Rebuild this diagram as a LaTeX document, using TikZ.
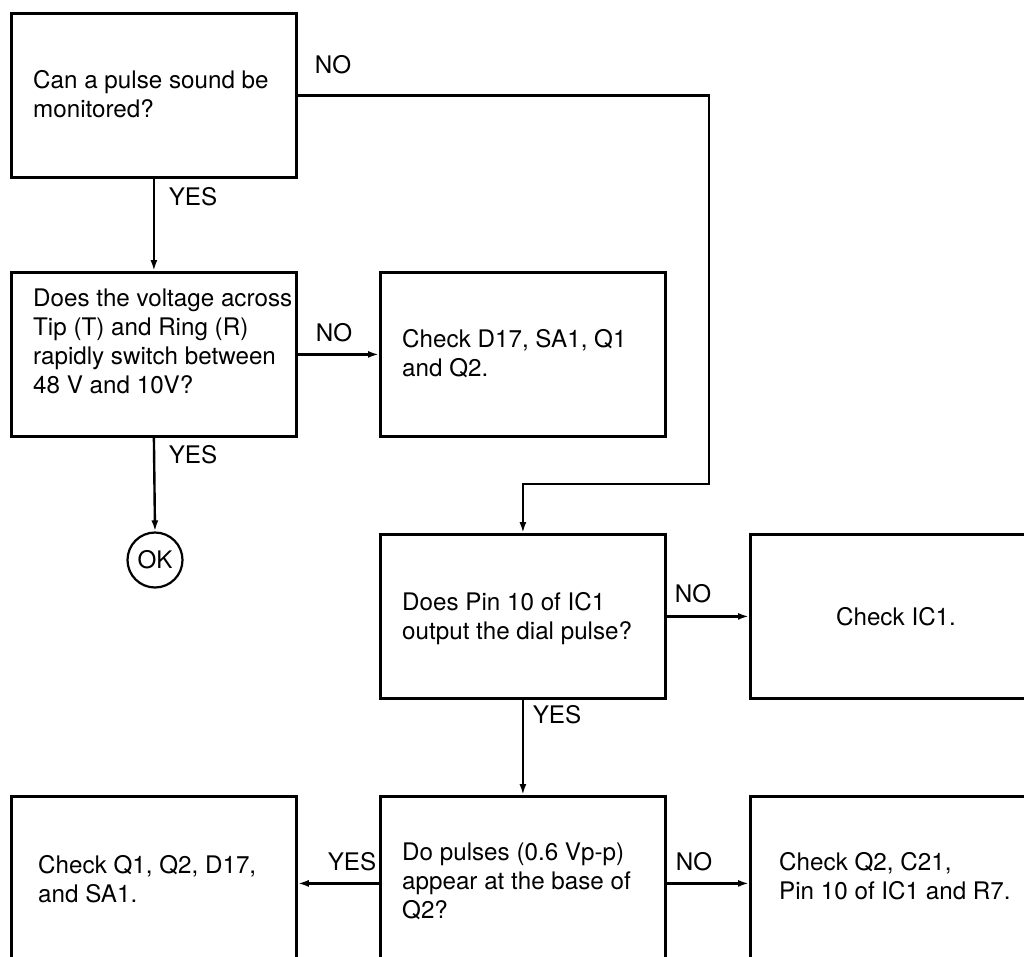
\documentclass[tikz,border=0pt]{standalone}
\usepackage{fontspec}
\setmainfont{TeX Gyre Heros}
\usetikzlibrary{arrows.meta}
\begin{document}
\begin{tikzpicture}[x=1pt,y=-1pt,
  box/.style={draw,line width=2.8pt,minimum width=285pt,minimum height=164pt,inner sep=0pt,anchor=north west},
  tallbox/.style={box,minimum height=174pt},
  txt/.style={align=left,anchor=west,inner sep=0pt,font=\fontsize{24.2}{29}\selectfont},
  lbl/.style={inner sep=0pt,font=\fontsize{24.2}{29}\selectfont},
  conn/.style={line width=2.4pt},
  arr/.style={conn,-{Latex[length=11pt,width=7pt]}}]
\useasboundingbox (0,0) rectangle (1024,956);
\clip (0,0) rectangle (1024,956);
% boxes
\node[box] (a) at (10,12) {};
\node[box] (b) at (10,271) {};
\node[box] (c) at (379,271) {};
\node[box] (d) at (379,533) {};
\node[box] (e) at (749,533) {};
\node[tallbox] (f) at (10,795) {};
\node[tallbox] (g) at (379,795) {};
\node[tallbox] (h) at (749,795) {};
\node[draw,circle,line width=2.2pt,minimum size=55pt,inner sep=0pt,font=\fontsize{24.2}{29}\selectfont] (ok) at (155,560) {OK};
% texts
\node[txt] (ta) at (33,94) {Can a pulse sound be\\monitored?};
\node[txt] (tb) at (33,341) {Does the voltage across\\Tip (T) and Ring (R)\\rapidly switch between\\48 V and 10V?};
\node[txt] (tc) at (402,354) {Check D17, SA1, Q1\\and Q2.};
\node[txt] (td) at (402,619) {Does Pin 10 of IC1\\output the dial pulse?};
\node[txt,anchor=center] (te) at (896,617) {Check IC1.};
\node[txt] (tf) at (38,879) {Check Q1, Q2, D17,\\and SA1.};
\node[txt] (tg) at (402,881) {Do pulses (0.6 Vp-p)\\appear at the base of\\Q2?};
\node[txt] (th) at (779,876) {Check Q2, C21,\\Pin 10 of IC1 and R7.};
% connectors
\draw[arr] (a.south) -- (b.north);
\draw[arr] (a.east) -| (709,484) -| (d.north);
\draw[arr] (b.east) -- (c.west);
\draw[arr] (b.south) -- (ok.north);
\draw[arr] (d.east) -- (e.west);
\draw[arr] (d.south) -- (g.north);
\draw[arr] (g.east) -- (h.west);
\draw[arr] (g.west) -- (f.east);
% labels
\node[lbl] (l1) at (333,65) {NO};
\node[lbl] (l2) at (193,197) {YES};
\node[lbl] (l3) at (334,333) {NO};
\node[lbl] (l4) at (193,455) {YES};
\node[lbl] (l5) at (693,594) {NO};
\node[lbl] (l6) at (557,715) {YES};
\node[lbl] (l7) at (352,862) {YES};
\node[lbl] (l8) at (694,862) {NO};
\end{tikzpicture}
\end{document}
